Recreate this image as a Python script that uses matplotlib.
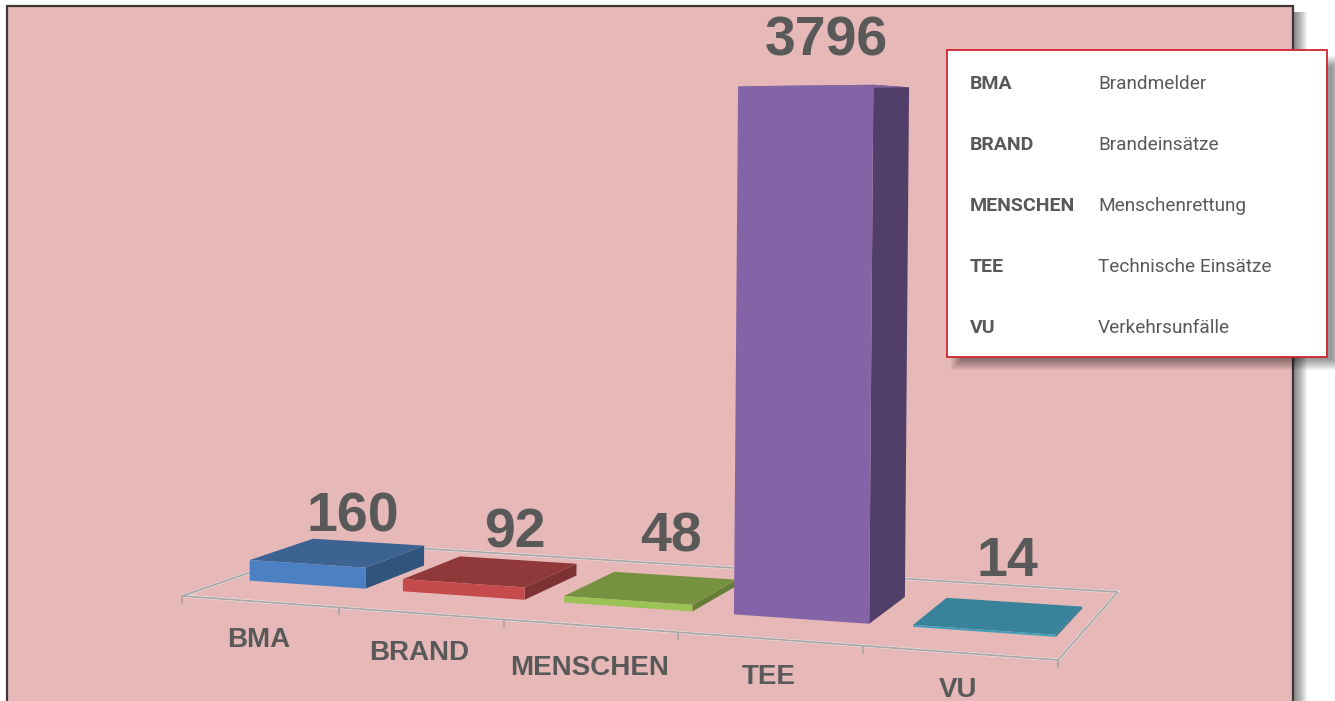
import numpy as np
import matplotlib
matplotlib.use('Agg')
import matplotlib.pyplot as plt
from matplotlib.patches import Polygon, Rectangle

categories = ['BMA', 'BRAND', 'MENSCHEN', 'TEE', 'VU']
values = [160, 92, 48, 3796, 14]
legend_names = ['Brandmelder', 'Brandeinsätze', 'Menschenrettung', 'Technische Einsätze', 'Verkehrsunfälle']

front_colors = ['#4b80c2', '#c44a4c', '#9bc255', '#8464a6', '#3f9fb8']
top_colors = ['#3c6392', '#90393a', '#76913f', '#8464a6', '#38839a']
side_colors = ['#31547f', '#7d3333', '#667f38', '#523f69', '#2f7085']

# where the labels sit in the picture
value_pos = [(353, 518), (515, 533), (671, 537), (826, 41), (1007, 562)]
label_drop = [38, 40, 42, 38, 37]

PANEL = '#e6b8b7'
TEXT = '#595959'
GRID = '#a6a6a6'

# floor of the 3d chart: category (0-5) and depth (0-1) -> picture pixels
src = np.array([[0, 0], [5, 0], [5, 1], [0, 1]], dtype=float)
dst = np.array([[182, 596], [1058, 660], [1118, 592], [335, 543]], dtype=float)
A = []
b = []
for (u, v), (x, y) in zip(src, dst):
    A.append([u, v, 1, 0, 0, 0, -u * x, -v * x])
    A.append([0, 0, 0, u, v, 1, -u * y, -v * y])
    b += [x, y]
H = np.append(np.linalg.solve(np.array(A), np.array(b)), 1).reshape(3, 3)

HEIGHT_SCALE = 0.1405
LEAN = 0.0011
BAR_U = (0.13, 0.89)
BAR_V = (0.29, 0.71)
H_NORM = (H @ np.array([3.5, 0.29, 1.0]))[2]


def project(u, v, h=0.0):
    p = H @ np.array([u, v, 1.0])
    w = p[2]
    return p[0] / w + LEAN * h, p[1] / w - HEIGHT_SCALE * h / w * H_NORM


fig = plt.figure(figsize=(13.35, 7.01), dpi=100, facecolor='white')
ax = fig.add_axes([0, 0, 1, 1])
ax.set_xlim(0, 1335)
ax.set_ylim(701, 0)
ax.axis('off')

# soft shadow on the right of the panel
for i in range(14):
    ax.add_patch(Rectangle((1292, 12), 15 - i, 700, fc='black', ec='none', alpha=0.045, zorder=1))
ax.add_patch(Rectangle((7, 6), 1285.5, 710, fc=PANEL, ec='#3f3636', lw=1.6, zorder=2))

# floor
floor = [project(*c) for c in src]
ax.add_patch(Polygon(floor, closed=True, fc='none', ec='#f0e4e4', lw=2.0, zorder=3))
ax.add_patch(Polygon(floor, closed=True, fc='none', ec=GRID, lw=1.2, zorder=3))
for i in range(6):
    x, y = project(i, 0)
    ax.plot([x, x], [y, y + 8], color=GRID, lw=1.2, zorder=3, solid_capstyle='butt')

# bars, back faces are never visible
for i, val in enumerate(values):
    u0, u1 = i + BAR_U[0], i + BAR_U[1]
    v0, v1 = BAR_V
    ax.add_patch(Polygon([project(u1, v0), project(u1, v1), project(u1, v1, val), project(u1, v0, val)],
                         closed=True, fc=side_colors[i], ec='none', zorder=5))
    ax.add_patch(Polygon([project(u0, v0, val), project(u1, v0, val), project(u1, v1, val), project(u0, v1, val)],
                         closed=True, fc=top_colors[i], ec='none', zorder=5))
    ax.add_patch(Polygon([project(u0, v0), project(u1, v0), project(u1, v0, val), project(u0, v0, val)],
                         closed=True, fc=front_colors[i], ec='none', zorder=6))
    ax.text(value_pos[i][0], value_pos[i][1], str(val), ha='center', va='center', color=TEXT, fontsize=40,
            fontweight='bold', family='Liberation Sans', zorder=7)
    lx, ly = project(i + 0.5, 0)
    ax.text(lx - 1, ly + label_drop[i], categories[i], ha='center', va='center', color=TEXT, fontsize=20,
            fontweight='bold', family='Liberation Sans', zorder=7)

# legend box with shadow
for i in range(12):
    ax.add_patch(Rectangle((951 + i, 56 + i), 392 - 2 * i, 314 - 2 * i, fc='black', ec='none', alpha=0.04, zorder=8))
ax.add_patch(Rectangle((947, 50), 380, 307, fc='white', ec='#d2232e', lw=1.3, zorder=9))
for i, (cat, name) in enumerate(zip(categories, legend_names)):
    y = 89 + i * 61
    ax.text(970, y, cat, ha='left', va='baseline', color='#58595b', fontsize=14, fontweight='bold',
            family='Roboto', zorder=10)
    ax.text(1098, y, name, ha='left', va='baseline', color='#58595b', fontsize=13.7,
            family='Roboto', zorder=10)

fig.savefig('out.png', dpi=100)
